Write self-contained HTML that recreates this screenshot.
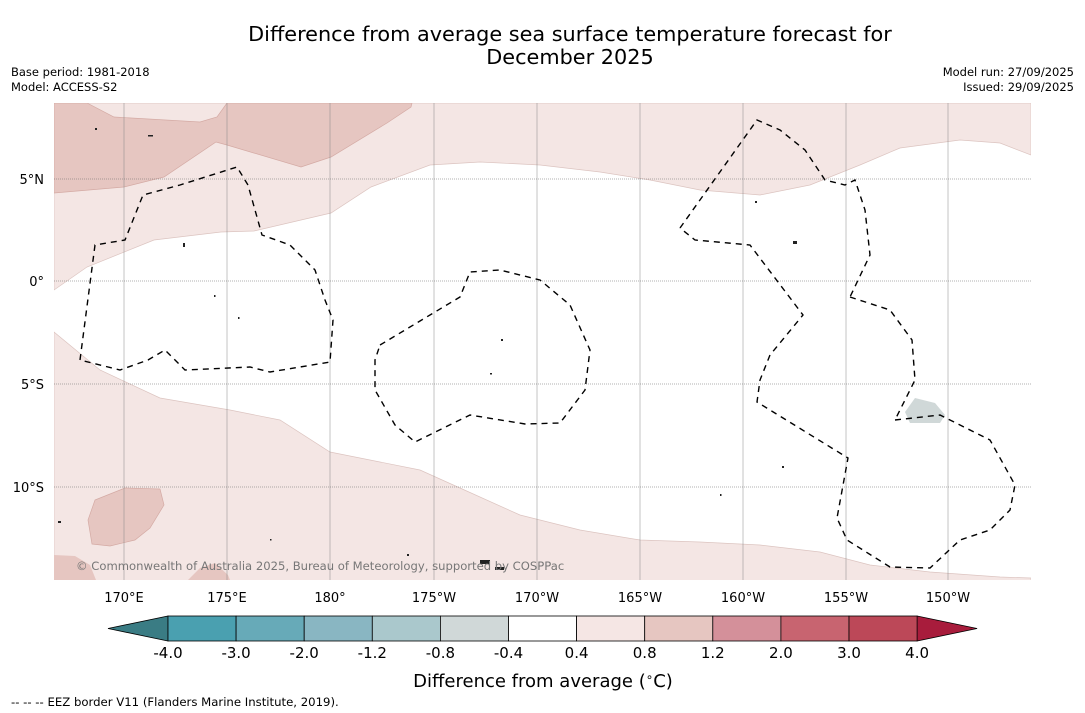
<!DOCTYPE html>
<html><head><meta charset="utf-8"><style>
body{margin:0;background:#fff;width:1085px;height:713px;overflow:hidden;font-family:"Liberation Sans","DejaVu Sans",sans-serif;}
svg{position:absolute;left:0;top:0}
</style></head><body>
<svg width="1085" height="713" viewBox="0 0 1085 713">
<text x="570" y="41" text-anchor="middle" font-size="20.8" font-family="DejaVu Sans,sans-serif">Difference from average sea surface temperature forecast for</text>
<text x="570" y="64" text-anchor="middle" font-size="20.8" font-family="DejaVu Sans,sans-serif">December 2025</text>
<g font-size="11.5" font-family="DejaVu Sans,sans-serif"><text x="11" y="76">Base period: 1981-2018</text><text x="11" y="91">Model: ACCESS-S2</text></g>
<g font-size="11.5" font-family="DejaVu Sans,sans-serif" text-anchor="end"><text x="1074" y="76">Model run: 27/09/2025</text><text x="1074" y="91">Issued: 29/09/2025</text></g>
<defs><clipPath id="mc"><rect x="54" y="103" width="977" height="477"/></clipPath></defs>
<g clip-path="url(#mc)">
<rect x="54" y="103" width="977" height="477" fill="#fff"/>
<path fill="#f4e6e4" stroke="#dcc4c0" stroke-width="0.7" d="M54,290 L87,267 L154,240 L221,232 L254,231 L331,213 L371,187 L430,165 L480,162 L540,165 L600,172 L650,180 L700,190 L760,195 L810,185 L860,165 L900,148 L960,140 L1000,143 L1031,155 L1031,103 L54,103 Z"/>
<path fill="#e6c6c1" stroke="#d4aaa4" stroke-width="0.7" d="M54,103 L87,103 L114,117 L200,122 L217,117 L227,103 L412,103 L411,107 L387,123 L331,157 L301,167 L227,145 L216,142 L164,177 L124,187 L54,193 Z"/>
<path fill="#f4e6e4" stroke="#dcc4c0" stroke-width="0.7" d="M54,332 L100,370 L160,398 L230,410 L280,420 L330,452 L380,462 L420,470 L460,488 L520,515 L580,530 L640,540 L700,542 L760,545 L820,552 L870,565 L930,572 L1000,577 L1031,578 L1031,585 L54,585 Z"/>
<path fill="#e6c6c1" stroke="#d4aaa4" stroke-width="0.7" d="M95,500 L125,488 L160,489 L164,505 L150,528 L135,540 L110,546 L92,544 L88,520 Z"/>
<path fill="#e6c6c1" d="M54,555 L75,556 L90,565 L96,580 L54,580 Z M188,580 L200,568 L215,563 L228,575 L230,580 Z"/>
<path fill="#d0d8d8" d="M905,412 L915,398 L935,403 L945,415 L940,423 L910,423 Z"/>
<g stroke="#888" stroke-width="0.5">
<line x1="124" y1="103" x2="124" y2="580"/><line x1="227" y1="103" x2="227" y2="580"/><line x1="330" y1="103" x2="330" y2="580"/><line x1="434" y1="103" x2="434" y2="580"/><line x1="537" y1="103" x2="537" y2="580"/><line x1="640" y1="103" x2="640" y2="580"/><line x1="743" y1="103" x2="743" y2="580"/><line x1="846" y1="103" x2="846" y2="580"/><line x1="948" y1="103" x2="948" y2="580"/></g>
<g stroke="#666" stroke-width="0.6" stroke-dasharray="1,1">
<line x1="54" y1="179" x2="1031" y2="179"/><line x1="54" y1="281" x2="1031" y2="281"/><line x1="54" y1="384" x2="1031" y2="384"/><line x1="54" y1="487" x2="1031" y2="487"/></g>
<g fill="none" stroke="#000" stroke-width="1.4" stroke-dasharray="6,5">
<path d="M80,360 L95,245 L125,240 L143,195 L180,185 L237,167 L248,185 L262,235 L290,245 L315,270 L325,300 L333,320 L330,362 L270,372 L250,367 L185,370 L165,350 L148,360 L120,370 Z"/>
<path d="M380,345 L460,297 L470,272 L500,270 L540,280 L570,305 L590,350 L585,390 L560,423 L525,424 L470,415 L415,442 L395,425 L375,390 L375,360 Z"/>
<path d="M680,228 L757,120 L780,130 L805,150 L825,180 L845,185 L855,180 L865,210 L870,255 L850,297"/>
<path d="M850,297 L890,310 L912,340 L915,380 L895,420 M895,420 L940,415 L990,440 L1015,485 L1010,510 L990,530 L960,540 L930,568 L890,567 L847,540 L837,518 L848,458 L757,402 L760,380 L770,355 L803,315 L750,245 L695,240 L680,228"/></g>
<g fill="#222">
<rect x="95" y="128" width="2" height="2"/><rect x="148" y="135" width="5" height="1.5"/><rect x="183" y="243" width="2" height="4"/><rect x="214" y="295" width="1.5" height="2"/><rect x="238" y="317" width="1.5" height="2"/><rect x="501" y="339" width="2" height="2"/><rect x="490" y="373" width="2" height="1.5"/><rect x="793" y="241" width="4" height="3"/><rect x="755" y="201" width="2" height="2"/><rect x="782" y="466" width="2" height="2"/><rect x="720" y="494" width="1.5" height="2"/><rect x="58" y="521" width="3" height="2"/><rect x="480" y="560" width="10" height="4"/><rect x="495" y="567" width="9" height="3"/><rect x="407" y="554" width="2" height="2"/><rect x="270" y="539" width="1.5" height="1.5"/></g>
<text x="76" y="570" font-size="11.6" fill="#777" font-family="DejaVu Sans,sans-serif">© Commonwealth of Australia 2025, Bureau of Meteorology, supported by COSPPac</text>
</g>
<g font-size="13" font-family="DejaVu Sans,sans-serif" text-anchor="end">
<text x="44" y="184">5°N</text><text x="44" y="286">0°</text><text x="44" y="389">5°S</text><text x="44" y="492">10°S</text></g>
<g font-size="13" font-family="DejaVu Sans,sans-serif" text-anchor="middle">
<text x="124" y="602">170°E</text><text x="227" y="602">175°E</text><text x="330" y="602">180°</text><text x="434" y="602">175°W</text><text x="537" y="602">170°W</text><text x="640" y="602">165°W</text><text x="743" y="602">160°W</text><text x="846" y="602">155°W</text><text x="948" y="602">150°W</text></g>
<g id="cbar"></g>
<text x="543" y="687" text-anchor="middle" font-size="18" font-family="DejaVu Sans,sans-serif">Difference from average (<tspan font-size="12" dy="-6">∘</tspan><tspan dy="6">C)</tspan></text>
<text x="11" y="706" font-size="11.7" font-family="DejaVu Sans,sans-serif">--  --  -- EEZ border V11 (Flanders Marine Institute, 2019).</text>
</svg>
<script>
const levels=["-4.0","-3.0","-2.0","-1.2","-0.8","-0.4","0.4","0.8","1.2","2.0","3.0","4.0"];
const binColors=["#4aa0b0","#67aab8","#89b6c2","#aac8cc","#d0d8d8","#ffffff","#f5e6e4","#e6c6c1","#d4909a","#c86470","#bc4858"];
const extColors=["#3a7c84","#a81c3c"];
const g=document.getElementById('cbar');
const NS="http://www.w3.org/2000/svg";
const x0=168,w=68.1,y0=616,h=25;
function xAt(i){return x0+i*w;}
function mk(t,a){const e=document.createElementNS(NS,t);for(const k in a)e.setAttribute(k,a[k]);g.appendChild(e);return e;}
let p=mk('polygon',{points:`108,${y0+h/2} ${x0},${y0} ${x0},${y0+h}`,fill:extColors[0],stroke:'#000','stroke-width':0.8});


const xe=xAt(levels.length-1);
p=mk('polygon',{points:`${xe},${y0} ${xe+60},${y0+h/2} ${xe},${y0+h}`,fill:extColors[1],stroke:'#000','stroke-width':0.8});


binColors.forEach((c,i)=>{
  const r=mk('rect',{x:xAt(i),y:y0,width:w,height:h,fill:c,stroke:'#000','stroke-width':0.8});
  
  
});
levels.forEach((l,i)=>{
  const t=mk('text',{x:xAt(i),y:658,'text-anchor':'middle','font-size':15,'font-family':'DejaVu Sans,sans-serif'});
  t.textContent=l;
  
  
});
</script>
</body></html>
